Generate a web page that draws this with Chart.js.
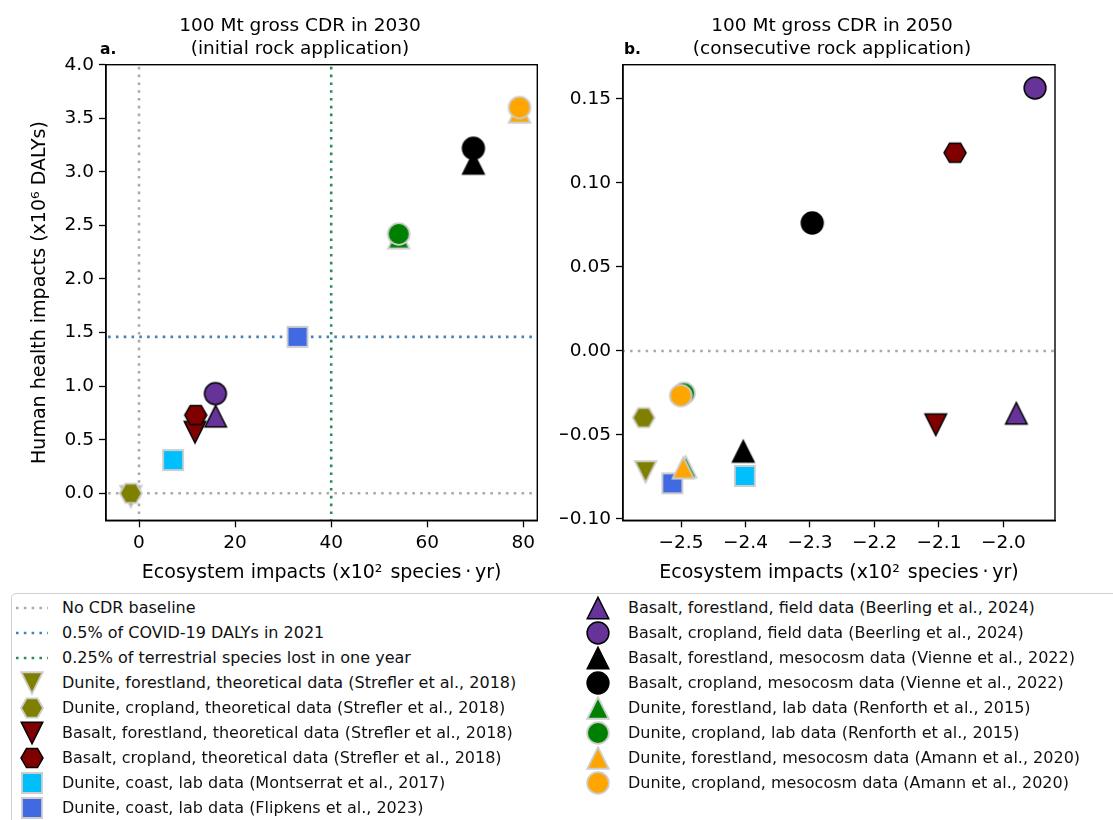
<!DOCTYPE html>
<html>
<head>
<meta charset="utf-8">
<script src="https://cdn.jsdelivr.net/npm/chart.js@4.4.1/dist/chart.umd.min.js"></script>
<style>
  html, body { margin: 0; padding: 0; background: #fff; width: 1113px; height: 820px; overflow: hidden; }
  #wrap { position: relative; width: 1113px; height: 820px; font-family: "DejaVu Sans", sans-serif; }
  canvas.panel { position: absolute; top: 0; }
  #legendBox { position: absolute; left: 11px; top: 593px; width: 1140px; height: 260px;
               border: 1.3px solid #d0d0d0; border-radius: 5px; box-sizing: border-box; background: #fff; }
  .item { position: absolute; height: 25px; line-height: 25px; font-size: 16px; color: #111; white-space: nowrap; }
  .icon { position: absolute; }
</style>
</head>
<body>
<div id="wrap">
  <canvas id="panelA" class="panel" width="560" height="592" style="left:0px"></canvas>
  <canvas id="panelB" class="panel" width="553" height="592" style="left:560px"></canvas>
  <div id="legendBox"></div>
</div>
<script>
// ---- series (same order as the legend) ----
const seriesNames = [
  'Dunite, forestland, theoretical data (Strefler et al., 2018)',
  'Dunite, cropland, theoretical data (Strefler et al., 2018)',
  'Basalt, forestland, theoretical data (Strefler et al., 2018)',
  'Basalt, cropland, theoretical data (Strefler et al., 2018)',
  'Dunite, coast, lab data (Montserrat et al., 2017)',
  'Dunite, coast, lab data (Flipkens et al., 2023)',
  'Basalt, forestland, field data (Beerling et al., 2024)',
  'Basalt, cropland, field data (Beerling et al., 2024)',
  'Basalt, forestland, mesocosm data (Vienne et al., 2022)',
  'Basalt, cropland, mesocosm data (Vienne et al., 2022)',
  'Dunite, forestland, lab data (Renforth et al., 2015)',
  'Dunite, cropland, lab data (Renforth et al., 2015)',
  'Dunite, forestland, mesocosm data (Amann et al., 2020)',
  'Dunite, cropland, mesocosm data (Amann et al., 2020)'
];

// 2030, initial rock application
const eco2030    = [-1.7, -1.7, 11.65, 11.8, 7.1, 33.0, 15.95, 15.9, 69.6, 69.6, 54.05, 54.05, 79.2, 79.2];
const health2030 = [-0.03, 0.0, 0.57, 0.73, 0.31, 1.46, 0.72, 0.93, 3.08, 3.22, 2.385, 2.42, 3.56, 3.60];

// 2050, consecutive rock application
const eco2050    = [-2.555, -2.558, -2.105, -2.075, -2.401, -2.5135, -1.980, -1.951, -2.4035, -2.2965, -2.4927, -2.4953, -2.4964, -2.5005];
const health2050 = [-0.072, -0.0397, -0.0439, 0.118, -0.0744, -0.0788, -0.0371, 0.1565, -0.0597, 0.0762, -0.069, -0.0252, -0.0695, -0.0266];

// reference thresholds
const noCdrBaseline = 0;
const covidDalyShare = 1.46;       // 0.5% of COVID-19 DALYs in 2021 (x10^6 DALYs)
const speciesLossShare = 40;       // 0.25% of terrestrial species lost in one year (x10^2 species·yr)

// tick labels
const ticksAx = [0, 20, 40, 60, 80];
const ticksAy = [0, 0.5, 1.0, 1.5, 2.0, 2.5, 3.0, 3.5, 4.0];
const ticksBx = [-2.5, -2.4, -2.3, -2.2, -2.1, -2.0];
const ticksBy = [-0.10, -0.05, 0.00, 0.05, 0.10, 0.15];

// ---- marker look ----
const markerLook = [
  { shape: 'triDown', fill: '#808000', edge: 'light' },
  { shape: 'hexagon', fill: '#808000', edge: 'light' },
  { shape: 'triDown', fill: '#800000', edge: 'dark' },
  { shape: 'hexagon', fill: '#800000', edge: 'dark' },
  { shape: 'square',  fill: '#00bfff', edge: 'light' },
  { shape: 'square',  fill: '#4169e1', edge: 'light' },
  { shape: 'triUp',   fill: '#663399', edge: 'dark' },
  { shape: 'circle',  fill: '#663399', edge: 'dark' },
  { shape: 'triUp',   fill: '#000000', edge: 'dark' },
  { shape: 'circle',  fill: '#000000', edge: 'dark' },
  { shape: 'triUp',   fill: '#008000', edge: 'light' },
  { shape: 'circle',  fill: '#008000', edge: 'light' },
  { shape: 'triUp',   fill: '#ffa500', edge: 'light' },
  { shape: 'circle',  fill: '#ffa500', edge: 'light' }
];
const edgeColors = { light: '#cdcdcd', dark: '#000000' };

const FONT = '"DejaVu Sans", sans-serif';

function makeMarker(look) {
  const S = 30, c = S / 2;
  const cv = document.createElement('canvas');
  cv.width = S; cv.height = S;
  const g = cv.getContext('2d');
  g.beginPath();
  const h = 10.75;
  if (look.shape === 'circle') {
    g.arc(c, c, 10.9, 0, Math.PI * 2);
  } else if (look.shape === 'square') {
    g.rect(c - 10, c - 10, 20, 20);
  } else if (look.shape === 'triUp') {
    g.moveTo(c, c - h); g.lineTo(c + h, c + h); g.lineTo(c - h, c + h); g.closePath();
  } else if (look.shape === 'triDown') {
    g.moveTo(c, c + h); g.lineTo(c - h, c - h); g.lineTo(c + h, c - h); g.closePath();
  } else if (look.shape === 'hexagon') {
    for (let k = 0; k < 6; k++) {
      const a = k * Math.PI / 3;
      const px = c + 11 * Math.cos(a), py = c + 11 * Math.sin(a);
      if (k === 0) g.moveTo(px, py); else g.lineTo(px, py);
    }
    g.closePath();
  }
  g.fillStyle = look.fill;
  g.fill();
  g.lineJoin = 'miter';
  g.lineWidth = look.edge === 'dark' ? 1.5 : 1.8;
  g.strokeStyle = edgeColors[look.edge];
  g.stroke();
  return cv;
}

const DOT = { width: 2.6, dash: [2.6, 5.2] };
const lineColors = { baseline: '#aaaaaa', covid: '#4682b4', species: '#2e8b57' };

function hLine(y, color) {
  return { type: 'line', data: [{ x: -1000, y: y }, { x: 1000, y: y }], borderColor: color,
           borderWidth: DOT.width, borderDash: DOT.dash, pointRadius: 0, order: 100, showLine: true };
}
function vLine(x, color) {
  return { type: 'line', data: [{ x: x, y: -1000 }, { x: x, y: 1000 }], borderColor: color,
           borderWidth: DOT.width, borderDash: DOT.dash, pointRadius: 0, order: 100, showLine: true };
}

function markerSets(xs, ys) {
  return seriesNames.map((name, i) => ({
    type: 'scatter',
    label: name,
    data: [{ x: xs[i], y: ys[i] }],
    pointStyle: makeMarker(markerLook[i]),
    pointRadius: 11,
    order: seriesNames.length - i
  }));
}

// axes frame on all four sides
const framePlugin = {
  id: 'frame',
  afterDatasetsDraw(chart) {
    const a = chart.chartArea, ctx = chart.ctx;
    ctx.save();
    ctx.strokeStyle = '#000';
    ctx.lineWidth = 1.4;
    ctx.strokeRect(a.left, a.top, a.right - a.left, a.bottom - a.top);
    ctx.restore();
  }
};

// two-line panel title plus panel letter
const headingPlugin = {
  id: 'panelHeading',
  afterDraw(chart, args, opts) {
    const ctx = chart.ctx;
    ctx.save();
    ctx.fillStyle = '#000';
    ctx.textBaseline = 'alphabetic';
    ctx.textAlign = 'center';
    ctx.font = '18.5px ' + FONT;
    opts.lines.forEach((t, i) => ctx.fillText(t, opts.centerX, opts.baseline + i * opts.gap));
    ctx.textAlign = 'left';
    ctx.font = 'bold 15.5px ' + FONT;
    ctx.fillText(opts.tag, opts.tagX, opts.baseline + opts.gap);
    ctx.restore();
  }
};

const fmt1 = v => v.toFixed(1);
const fmt0 = v => v.toFixed(0);
const fmt2 = v => (v < 0 ? '\u2212' : '') + Math.abs(v).toFixed(2);
const fmtNeg1 = v => (v < 0 ? '\u2212' : '') + Math.abs(v).toFixed(1);

function axis(opts) {
  return {
    type: 'linear',
    min: opts.min, max: opts.max,
    afterBuildTicks: s => { s.ticks = opts.ticks.map(v => ({ value: v })); },
    afterFit: s => { if (opts.size.w !== undefined) s.width = opts.size.w; if (opts.size.h !== undefined) s.height = opts.size.h; },
    ticks: { callback: v => opts.fmt(v), font: { family: FONT, size: 18.5 }, color: '#000', padding: 5,
             maxRotation: 0, autoSkip: false },
    grid: { drawOnChartArea: false, drawTicks: true, tickLength: 7, tickWidth: 1.3, tickColor: '#000' },
    border: { display: true, color: '#000', width: 1.4 },
    title: { display: !!opts.title, text: opts.title || '', color: '#000',
             font: { family: FONT, size: 19 }, padding: opts.titlePad || 0 }
  };
}

function makePanel(id, cfg) {
  return new Chart(document.getElementById(id), {
    type: 'scatter',
    data: { datasets: cfg.datasets },
    options: {
      responsive: false,
      animation: false,
      devicePixelRatio: 1,
      events: [],
      layout: { padding: cfg.padding },
      plugins: { legend: { display: false }, tooltip: { enabled: false }, panelHeading: cfg.heading },
      scales: { x: cfg.x, y: cfg.y }
    },
    plugins: [framePlugin, headingPlugin]
  });
}

const xTitle = 'Ecosystem impacts (x10\u00B2\u200A species\u2009\u00B7\u2009yr)';

makePanel('panelA', {
  datasets: [
    hLine(noCdrBaseline, lineColors.baseline),
    vLine(noCdrBaseline, lineColors.baseline),
    hLine(covidDalyShare, lineColors.covid),
    vLine(speciesLossShare, lineColors.species),
    ...markerSets(eco2030, health2030)
  ],
  padding: { left: 0, right: 22.7, top: 64.7, bottom: 0 },
  heading: { lines: ['100 Mt gross CDR in 2030', '(initial rock application)'], centerX: 300,
             baseline: 30.6, gap: 23.8, tag: 'a.', tagX: 100 },
  x: axis({ min: -6.87, max: 82.9, ticks: ticksAx, fmt: fmt0, size: { h: 71.7 },
            title: xTitle, titlePad: { bottom: 7.6 } }),
  y: axis({ min: -0.252, max: 4.0, ticks: ticksAy, fmt: fmt1, size: { w: 106 },
            title: 'Human health impacts (x10\u2076 DALYs)', titlePad: { top: 28.6 } })
});

makePanel('panelB', {
  datasets: [
    hLine(noCdrBaseline, lineColors.baseline),
    ...markerSets(eco2050, health2050)
  ],
  padding: { left: 0, right: 58, top: 64.7, bottom: 0 },
  heading: { lines: ['100 Mt gross CDR in 2050', '(consecutive rock application)'], centerX: 272,
             baseline: 30.6, gap: 23.8, tag: 'b.', tagX: 64 },
  x: axis({ min: -2.590, max: -1.920, ticks: ticksBx, fmt: fmtNeg1, size: { h: 71.7 },
            title: xTitle, titlePad: { bottom: 7.6 } }),
  y: axis({ min: -0.1008, max: 0.1704, ticks: ticksBy, fmt: fmt2, size: { w: 63 } })
});

// ---- legend ----
const legendLines = [
  { label: 'No CDR baseline', color: lineColors.baseline },
  { label: '0.5% of COVID-19 DALYs in 2021', color: lineColors.covid },
  { label: '0.25% of terrestrial species lost in one year', color: lineColors.species }
];
const wrap = document.getElementById('wrap');
const ROW0 = 608, ROWGAP = 25;
const columns = [{ iconX: 31.5, textX: 62 }, { iconX: 598, textX: 628 }];

function addItem(col, row, iconCanvas, text) {
  const cy = ROW0 + row * ROWGAP;
  iconCanvas.className = 'icon';
  iconCanvas.style.left = (columns[col].iconX - iconCanvas.width / 2) + 'px';
  iconCanvas.style.top = (cy - iconCanvas.height / 2) + 'px';
  wrap.appendChild(iconCanvas);
  const d = document.createElement('div');
  d.className = 'item';
  d.style.left = columns[col].textX + 'px';
  d.style.top = (cy - 12.5 - 1) + 'px';
  d.textContent = text;
  wrap.appendChild(d);
}

function lineIcon(color) {
  const cv = document.createElement('canvas');
  cv.width = 34; cv.height = 8;
  const g = cv.getContext('2d');
  g.strokeStyle = color; g.lineWidth = DOT.width; g.setLineDash(DOT.dash);
  g.beginPath(); g.moveTo(1, 4); g.lineTo(33, 4); g.stroke();
  return cv;
}

const entries = [
  ...legendLines.map(l => ({ icon: () => lineIcon(l.color), text: l.label })),
  ...seriesNames.map((n, i) => ({ icon: () => makeMarker(markerLook[i]), text: n }))
];
entries.forEach((e, k) => {
  const col = k < 9 ? 0 : 1;
  const row = k < 9 ? k : k - 9;
  addItem(col, row, e.icon(), e.text);
});
</script>
</body>
</html>
